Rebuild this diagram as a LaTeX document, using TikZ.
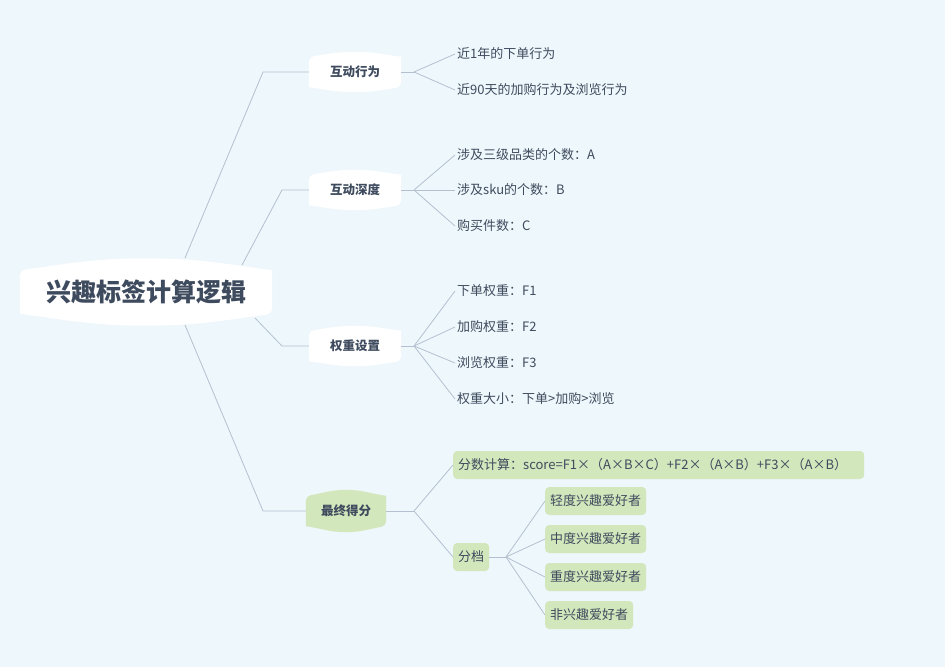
\documentclass[tikz,border=0pt]{standalone}
\usepackage{fontspec}
\setmainfont{Noto Sans CJK SC}
\usetikzlibrary{calc}
\definecolor{bg}{HTML}{EEF7FB}
\definecolor{ln}{HTML}{B4C0D0}
\definecolor{tx}{HTML}{3E4B5E}
\definecolor{gr}{HTML}{D3E7BC}
\tikzset{
  lf/.style={inner sep=2pt,text=tx,font=\fontsize{13}{15}\selectfont,anchor=west},
  gbox/.style={lf,fill=gr,rounded corners=4pt,inner xsep=5pt,minimum height=28pt},
  topic/.style={text=tx,font=\fontsize{12.5}{14}\selectfont\bfseries,minimum height=40pt},
  con/.style={draw=ln,line width=0.8pt}
}
\newcommand\barrel[3]{%
  \fill[#2] ($(#1.north west)+(0,#3)$) to[out=8,in=180] (#1.north) to[out=0,in=172] ($(#1.north east)+(0,#3)$)
   [rounded corners=5pt] -- ($(#1.south east)+(0,-#3)$) [sharp corners] to[out=188,in=0] (#1.south) to[out=180,in=-8] ($(#1.south west)+(0,-#3)$) [rounded corners=5pt] -- cycle;}
\begin{document}
\begin{tikzpicture}[x=1pt,y=-1pt]
\fill[bg] (0,0) rectangle (945,667);
\useasboundingbox (0,0) rectangle (945,667);
% topic nodes
\node[topic,minimum width=252pt,minimum height=67pt,font=\fontsize{25}{28}\selectfont\bfseries] (root) at (146,292) {\phantom{兴趣标签计算逻辑}};
\node[topic,minimum width=92pt] (t1) at (355,72) {\phantom{互动行为}};
\node[topic,minimum width=92pt] (t2) at (355,190) {\phantom{互动深度}};
\node[topic,minimum width=92pt] (t3) at (355,346) {\phantom{权重设置}};
\node[topic,minimum width=80pt,minimum height=42pt] (t4) at (346,511) {\phantom{最终得分}};
\barrel{root}{white}{12}
\barrel{t1}{white}{5}
\barrel{t2}{white}{5}
\barrel{t3}{white}{5}
\barrel{t4}{gr}{6}
\node[topic,font=\fontsize{25}{28}\selectfont\bfseries] at (root) {兴趣标签计算逻辑};
\node[topic] at (t1) {互动行为};
\node[topic] at (t2) {互动深度};
\node[topic] at (t3) {权重设置};
\node[topic] at (t4) {最终得分};
% root connectors
\coordinate (r1) at (185,258);
\coordinate (r2) at (242,265);
\coordinate (r3) at (255,318);
\coordinate (r4) at (185,325);
\draw[con] (r1) -- (263,72) -- (t1.west);
\draw[con] (r2) -- (282,190) -- (t2.west);
\draw[con] (r3) -- (282,346) -- (t3.west);
\draw[con] (r4) -- (263,511) -- (t4.west);
% leaves
\node[lf] (a1) at (455,54) {近1年的下单行为};
\node[lf] (a2) at (455,90) {近90天的加购行为及浏览行为};
\node[lf] (b1) at (455,155) {涉及三级品类的个数：A};
\node[lf] (b2) at (455,190) {涉及sku的个数：B};
\node[lf] (b3) at (455,226) {购买件数：C};
\node[lf] (c1) at (455,291) {下单权重：F1};
\node[lf] (c2) at (455,327) {加购权重：F2};
\node[lf] (c3) at (455,363) {浏览权重：F3};
\node[lf] (c4) at (455,399) {权重大小：下单>加购>浏览};
\node[gbox,text width=401pt] (d1) at (453,465) {分数计算：score=F1×（A×B×C）+F2×（A×B）+F3×（A×B）};
\node[gbox] (d2) at (453,557) {分档};
\node[gbox] (e1) at (545,501) {轻度兴趣爱好者};
\node[gbox] (e2) at (545,539) {中度兴趣爱好者};
\node[gbox] (e3) at (545,577) {重度兴趣爱好者};
\node[gbox] (e4) at (545,615) {非兴趣爱好者};
% fans
\coordinate (f1) at (414,72);
\coordinate (f2) at (414,190);
\coordinate (f3) at (414,346);
\coordinate (f4) at (414,511);
\coordinate (f5) at (506,557);
\draw[con] (t1.east) -- (f1);
\foreach \n in {a1,a2} \draw[con] (f1) -- (\n.west);
\draw[con] (t2.east) -- (f2);
\foreach \n in {b1,b2,b3} \draw[con] (f2) -- (\n.west);
\draw[con] (t3.east) -- (f3);
\foreach \n in {c1,c2,c3,c4} \draw[con] (f3) -- (\n.west);
\draw[con] (t4.east) -- (f4);
\foreach \n in {d1,d2} \draw[con] (f4) -- (\n.west);
\draw[con] (d2.east) -- (f5);
\foreach \n in {e1,e2,e3,e4} \draw[con] (f5) -- (\n.west);
\end{tikzpicture}
\end{document}
